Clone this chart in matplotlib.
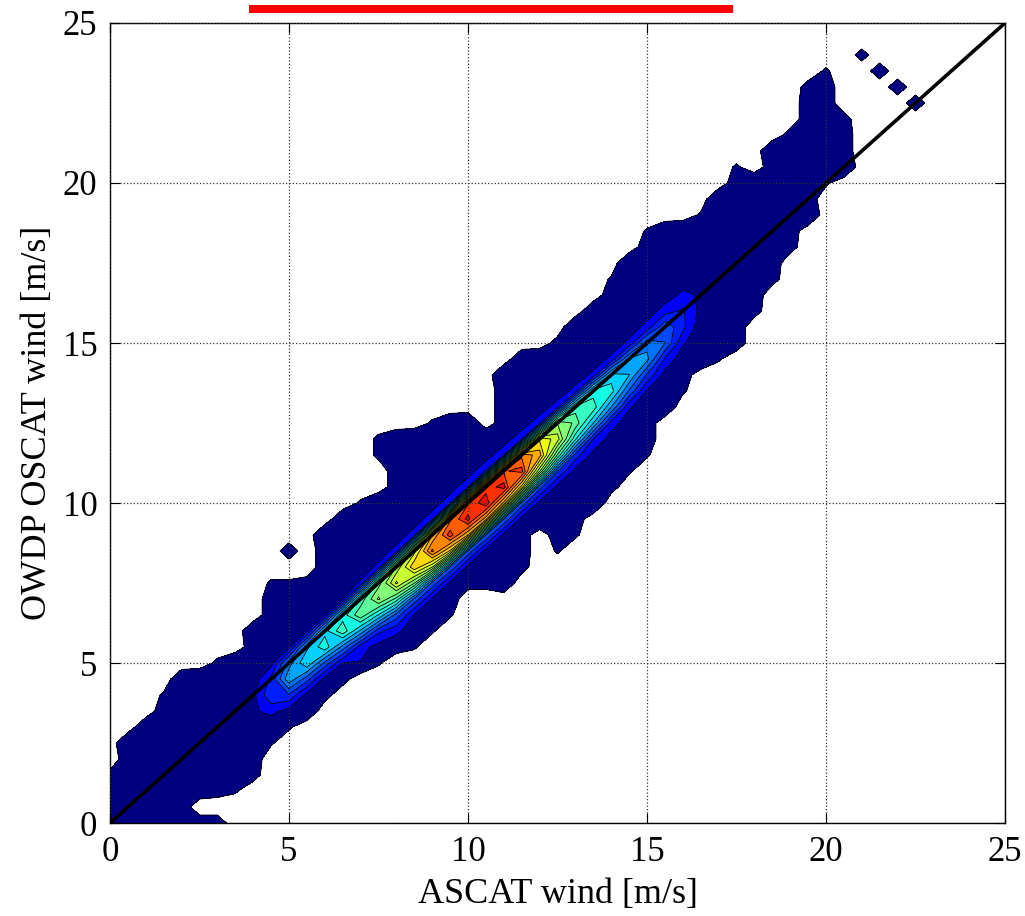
import numpy as np
import matplotlib.pyplot as plt
from matplotlib.patches import Rectangle

plt.rcParams['font.family'] = ['Liberation Serif', 'DejaVu Serif']

# 0.5 m/s bins for both sensors
ascat_bins = np.arange(0, 25.5, 0.5)
oscat_bins = np.arange(0, 25.5, 0.5)

# for every ASCAT bin: OSCAT speed of the first non-empty cell, then the cell densities going upward
col_y0 = [0.0, 0.0, 0.0, 0.0, 0.0, 0.0, 0.0, 1.0, 1.5, 2.5,
          3.0, 3.5, 4.0, 4.5, 5.0, 5.0, 5.5, 5.5, 6.0, 6.5,
          7.5, 7.5, 7.5, 8.0, 9.5, 8.5, 9.0, 10.0, 10.5, 11.0,
          11.5, 13.0, 13.5, 14.5, 14.5, 15.0, 16.0, 17.0, 18.0, 19.0,
          20.0, 20.5, 24.0, 23.5, 23.0, 22.5, None, None, None, None, None]

col_density = [
    [1, 1, 1, 0.74],
    [1, 1, 1, 1, 1, 1.45],
    [1, 1, 1, 1, 1, 1, 1.25],
    [1, 1, 1, 1, 1, 1, 1, 1, 0.63],
    [1, 1, 1, 1, 1, 1, 1, 1, 1, 1.25],
    [1, 0, 1, 1, 1, 1, 1, 1, 1, 1.45],
    [1, 0, 0.83, 1, 1, 1, 1, 1, 1, 1, 0.71],
    [0.6, 1, 1, 1, 1, 1, 1, 1, 1.45],
    [0.83, 1, 1, 1.1, 1.4, 1.3, 1, 1, 1, 1.25],
    [0.6, 1, 1.7, 2.8, 2.4, 1.2, 1, 1, 1, 1, 0.63],
    [0.63, 1.2, 2.8, 4.8, 4.0, 1.3, 1, 1, 1, 0.63, 0, 1],
    [1.25, 1.2, 3.2, 5.6, 4.8, 1.4, 1, 1, 0.83],
    [0.83, 1.2, 3.4, 6.2, 5.4, 1.5, 1, 1, 1, 1, 1.45],
    [0.83, 1.5, 4.0, 6.9, 6.0, 1.5, 1, 1, 1, 1, 1.25],
    [1.45, 1.8, 4.8, 7.6, 6.6, 1.6, 1, 1, 1, 1, 0.63],
    [0.6, 1.2, 2.4, 5.6, 8.6, 7.4, 1.7, 1, 1, 1, 1.45, 0, 0, 0.7, 0.7],
    [0.83, 1.7, 3.3, 6.8, 10.0, 8.6, 1.8, 1, 1, 1, 1, 1, 1, 1.25],
    [0.6, 1, 1.4, 3.4, 7.8, 11.1, 9.6, 1.9, 1, 1, 1, 1, 1, 1.45],
    [0.6, 1, 1.4, 3.4, 9.2, 12.8, 11.2, 2.0, 1, 1, 1, 1, 1, 0.63],
    [0.6, 1, 1.3, 3.6, 10.4, 13.7, 12.4, 2.1, 1, 1, 1, 1, 1.25],
    [0.83, 1.2, 3.4, 11.2, 14.3, 13.2, 2.2, 1, 1, 1, 1.45],
    [0.83, 1, 1.2, 3.6, 11.5, 14.6, 13.6, 2.3, 1, 1.45],
    [1.25, 1, 1, 1.2, 3.6, 11.0, 14.3, 13.2, 2.2, 1, 1, 1, 1, 1.45],
    [0.83, 1, 1, 1.2, 3.4, 10.2, 13.6, 12.4, 2.1, 1, 1, 1, 1, 1.25],
    [1.45, 1.2, 3.2, 8.6, 11.6, 10.4, 2.0, 1, 1, 1, 1.45],
    [0.6, 1, 1, 1, 1.2, 3.0, 7.0, 9.5, 8.4, 1.9, 1, 1, 1, 0.83],
    [0.63, 1, 1, 1, 1.2, 2.6, 5.8, 7.6, 6.7, 1.8, 1, 1, 1, 1.45],
    [1.45, 1, 1, 1.2, 2.2, 5.0, 6.8, 6.0, 1.7, 1, 1, 1, 1.25],
    [0.83, 1, 1, 1.1, 1.9, 4.3, 6.0, 5.3, 1.7, 1, 1, 1, 1, 0.6],
    [0.63, 1, 1, 1, 1.6, 3.5, 5.0, 4.4, 1.7, 1, 1, 1, 1, 1.45],
    [0.6, 1, 1, 1, 1.4, 2.8, 4.5, 4.0, 1.8, 1, 1, 1, 1, 1, 0.6],
    [1.25, 1, 1.2, 2.1, 3.6, 3.4, 1.9, 1, 1, 1, 1, 1.25],
    [0.63, 1, 1, 1.6, 2.4, 2.3, 1.7, 1, 1, 1, 1.45],
    [1.45, 1, 1, 1.3, 1.4, 1.2, 1, 1, 1, 0.63],
    [0.6, 1, 1, 1, 1, 1, 1, 1, 1, 1, 1.45],
    [1, 1, 1, 1, 1, 1, 1, 1, 1, 1, 1, 0.63],
    [0.83, 1, 1, 1, 1, 1, 1, 1, 1.45],
    [0.83, 1, 1, 1, 1, 1, 1, 1, 1.45],
    [0.83, 1, 1, 1, 1, 1, 1, 0.83],
    [1.45, 1, 1, 1, 1, 1, 1, 1, 0.83],
    [0.63, 1, 1, 1, 1, 1, 1, 0.63],
    [1.45, 1, 1, 0.83],
    [0.8],
    [1],
    [1],
    [1],
    [], [], [], [], [],
]

one_to_one = [0, 25]

density = np.zeros((len(oscat_bins), len(ascat_bins)))
for i, (y0, vals) in enumerate(zip(col_y0, col_density)):
    if y0 is None:
        continue
    j0 = int(round(y0 / 0.5))
    density[j0:j0 + len(vals), i] = vals

# 20 filled bands, jet colours
levels = np.concatenate([[0.5, 1.5], np.linspace(2.2, 14.0, 18), [20]])
band_colors = plt.cm.jet(np.concatenate([[0.0], np.linspace(0.11, 0.9, 19)]))

fig = plt.figure(figsize=(10.25, 9.16), dpi=100)
ax = fig.add_axes([0.1073, 0.1015, 0.8732, 0.8734])

ax.contourf(ascat_bins, oscat_bins, density, levels=levels, colors=band_colors)
ax.contour(ascat_bins, oscat_bins, density, levels=levels[:-1], colors='k', linewidths=0.6)
ax.plot(one_to_one, one_to_one, color='k', lw=2.6)

ax.set_xlim(0, 25)
ax.set_ylim(0, 25)
ax.set_xticks([0, 5, 10, 15, 20, 25])
ax.set_yticks([0, 5, 10, 15, 20, 25])
ax.grid(True, linestyle=':', color='0.2', linewidth=0.9)
ax.set_axisbelow(False)
ax.tick_params(direction='in', top=True, right=True, length=7, width=0.8, labelsize=25, pad=9)
for s in ax.spines.values():
    s.set_linewidth(1.0)

ax.set_xlabel('ASCAT wind [m/s]', fontsize=26, labelpad=7)
ax.set_ylabel('OWDP OSCAT wind [m/s]', fontsize=26, labelpad=6)

# red marker bar above the panel
fig.add_artist(Rectangle((249 / 1025, 1 - 12.5 / 916), 484 / 1025, 7.5 / 916,
                         transform=fig.transFigure, color='red', lw=0))

fig.savefig('out.png', dpi=100)
